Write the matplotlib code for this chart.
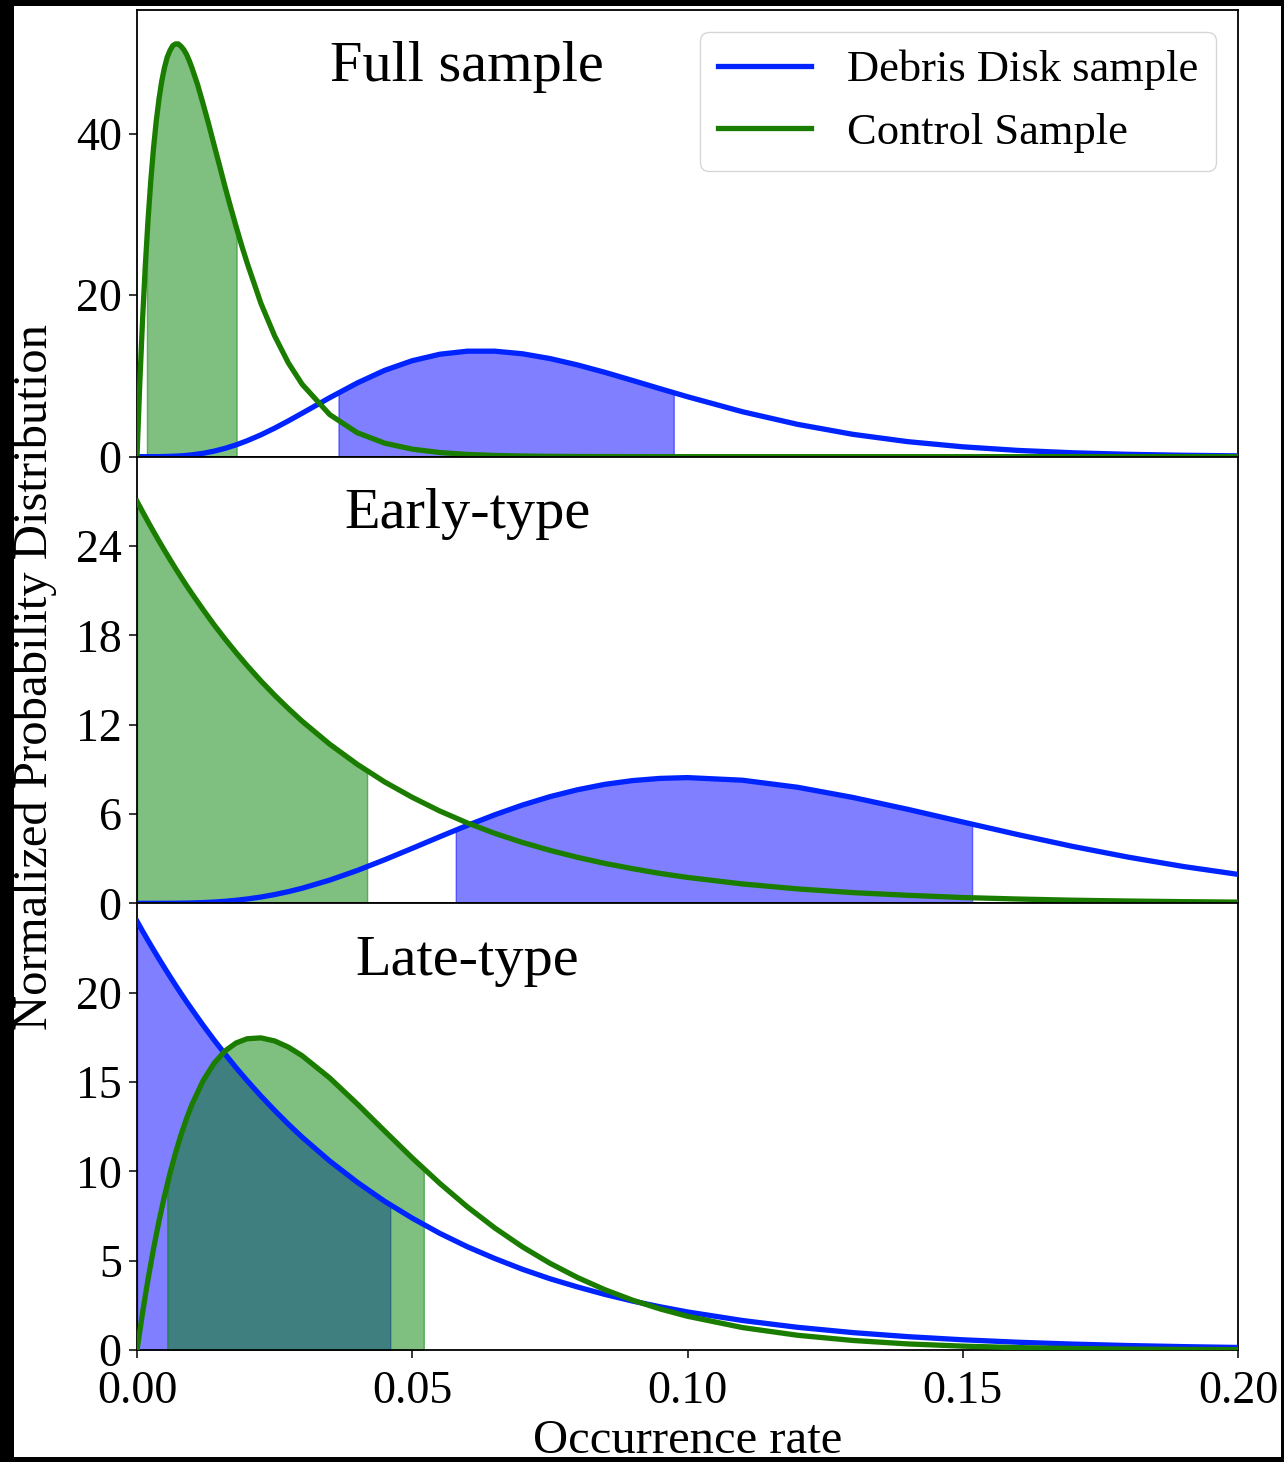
import numpy as np
import matplotlib
matplotlib.use("Agg")
import matplotlib.pyplot as plt
from matplotlib.patches import Rectangle

plt.rcParams['font.family'] = ['Liberation Serif', 'DejaVu Serif']

# occurrence rate grid (shared by most curves)
rate_grid = [0.000, 0.001, 0.002, 0.003, 0.004, 0.005, 0.006, 0.007, 0.008, 0.009,
             0.010, 0.012, 0.014, 0.016, 0.018, 0.020, 0.0225, 0.025, 0.0275, 0.030,
             0.035, 0.040, 0.045, 0.050, 0.055, 0.060, 0.065, 0.070, 0.075, 0.080,
             0.085, 0.090, 0.095, 0.100, 0.110, 0.120, 0.130, 0.140, 0.150, 0.160,
             0.170, 0.180, 0.190, 0.200]

# finer grid for the narrow control peak of the full sample
full_control_grid = [0.000, 0.0005, 0.001, 0.0015, 0.002, 0.0025, 0.003, 0.0035, 0.004, 0.0045,
                     0.005, 0.0055, 0.006, 0.0065, 0.007, 0.0075, 0.008, 0.0085, 0.009, 0.0095,
                     0.010, 0.011, 0.012, 0.013, 0.014, 0.015, 0.016, 0.017, 0.018, 0.019,
                     0.020, 0.0225, 0.025, 0.0275, 0.030, 0.035, 0.040, 0.045, 0.050, 0.055,
                     0.060, 0.065, 0.070, 0.075, 0.080, 0.090, 0.100, 0.150, 0.200]

# Full sample
full_debris = [0.0, 0.0, 0.0006, 0.003, 0.008, 0.019, 0.037, 0.065, 0.104, 0.157,
               0.226, 0.415, 0.681, 1.03, 1.46, 1.97, 2.70, 3.53, 4.43, 5.38,
               7.30, 9.12, 10.69, 11.88, 12.68, 13.06, 13.06, 12.74, 12.15, 11.36,
               10.44, 9.44, 8.42, 7.42, 5.56, 4.00, 2.77, 1.86, 1.22, 0.775,
               0.481, 0.292, 0.174, 0.101]
full_control = [0.0, 9.01, 16.81, 23.53, 29.25, 34.12, 38.2, 41.57, 44.3, 46.51,
                48.2, 49.48, 50.3, 50.89, 51.1, 51.1, 50.8, 50.39, 49.8, 49.01,
                48.1, 46.08, 43.7, 41.22, 38.6, 36.02, 33.4, 30.91, 28.5, 26.17,
                24.0, 19.0, 14.95, 11.6, 8.96, 5.21, 2.97, 1.67, 0.93, 0.51,
                0.28, 0.15, 0.08, 0.04, 0.02, 0.005, 0.0, 0.0, 0.0]
full_debris_band = (0.0366, 0.0975)
full_control_band = (0.0018, 0.0181)

# Early-type
early_debris = [0.0, 0.0, 0.0001, 0.0003, 0.0008, 0.002, 0.004, 0.007, 0.0115, 0.0178,
                0.026, 0.050, 0.087, 0.137, 0.205, 0.290, 0.423, 0.588, 0.786, 1.014,
                1.559, 2.205, 2.930, 3.695, 4.473, 5.233, 5.948, 6.599, 7.163, 7.627,
                7.993, 8.243, 8.391, 8.445, 8.268, 7.795, 7.114, 6.315, 5.462, 4.618,
                3.821, 3.106, 2.478, 1.945]
early_control = [27.0, 26.31, 25.63, 24.97, 24.33, 23.70, 23.09, 22.49, 21.91, 21.34,
                 20.79, 19.73, 18.71, 17.75, 16.84, 15.97, 14.94, 13.98, 13.08, 12.23,
                 10.69, 9.34, 8.15, 7.12, 6.20, 5.40, 4.70, 4.09, 3.56, 3.09,
                 2.68, 2.33, 2.01, 1.74, 1.30, 0.97, 0.72, 0.54, 0.39, 0.29,
                 0.21, 0.155, 0.113, 0.082]
early_debris_band = (0.0579, 0.1517)
early_control_band = (0.0, 0.0418)

# Late-type
late_debris = [24.0, 23.45, 22.92, 22.40, 21.89, 21.39, 20.90, 20.42, 19.95, 19.49,
               19.05, 18.18, 17.35, 16.56, 15.80, 15.08, 14.22, 13.41, 12.64, 11.91,
               10.58, 9.39, 8.32, 7.38, 6.53, 5.78, 5.12, 4.52, 3.99, 3.53,
               3.11, 2.74, 2.42, 2.13, 1.65, 1.27, 0.975, 0.747, 0.571, 0.435,
               0.330, 0.250, 0.189, 0.142]
late_control = [0.0, 2.067, 3.951, 5.666, 7.221, 8.627, 9.895, 11.032, 12.050, 12.954,
                13.754, 15.069, 16.049, 16.740, 17.185, 17.420, 17.470, 17.298, 16.951, 16.470,
                15.228, 13.776, 12.254, 10.750, 9.326, 8.013, 6.828, 5.777, 4.856, 4.059,
                3.374, 2.792, 2.300, 1.887, 1.255, 0.824, 0.534, 0.341, 0.216, 0.135,
                0.084, 0.051, 0.031, 0.019]
late_debris_band = (0.0, 0.046)
late_control_band = (0.0055, 0.0521)

panel_titles = ["Full sample", "Early-type", "Late-type"]
panel_ylims = [55.3, 30, 25]
panel_yticks = [[0, 20, 40], [0, 6, 12, 18, 24], [0, 5, 10, 15, 20]]
xticks = [0.00, 0.05, 0.10, 0.15, 0.20]

blue = '#0024ff'
green = '#1a7d00'


def band(x, y, lo, hi):
    # x positions inside the interval, plus the two edges
    xs = np.concatenate([[lo], x[(x > lo) & (x < hi)], [hi]])
    return xs, np.interp(xs, x, y)


x = np.array(rate_grid)
panels = [
    (x, full_debris, np.array(full_control_grid), full_control, full_debris_band, full_control_band),
    (x, early_debris, x, early_control, early_debris_band, early_control_band),
    (x, late_debris, x, late_control, late_debris_band, late_control_band),
]

fig = plt.figure(figsize=(12.84, 14.62), dpi=100)
fig.patch.set_facecolor('black')
fig.add_artist(Rectangle((14 / 1284, 1 - 1457 / 1462), (1281 - 14) / 1284, (1457 - 6) / 1462,
                         transform=fig.transFigure, facecolor='white',
                         edgecolor='none', zorder=-5))

left, right = 137 / 1284, 1238 / 1284
bottom, top = 1 - 1350 / 1462, 1 - 10 / 1462
h = (top - bottom) / 3

axes = []
for i, (xd, deb, xc, ctl, deb_band, ctl_band) in enumerate(panels):
    ax = fig.add_axes([left, top - (i + 1) * h, right - left, h])
    axes.append(ax)
    deb = np.array(deb)
    ctl = np.array(ctl)

    xs, ys = band(xd, deb, *deb_band)
    ax.fill_between(xs, 0, ys, color='blue', alpha=0.5, zorder=1)
    xs, ys = band(xc, ctl, *ctl_band)
    ax.fill_between(xs, 0, ys, color='green', alpha=0.5, zorder=1)

    ax.plot(xd, deb, color=blue, lw=3.8, label='Debris Disk sample', zorder=3,
            solid_joinstyle='round')
    ax.plot(xc, ctl, color=green, lw=3.8, label='Control Sample', zorder=3,
            solid_joinstyle='round')

    ax.set_xlim(0, 0.2)
    ax.set_ylim(0, panel_ylims[i])
    ax.set_yticks(panel_yticks[i])
    ax.set_xticks(xticks)
    ax.text(0.30, 0.872, panel_titles[i], transform=ax.transAxes,
            ha='center', va='center', fontsize=42)
    ax.tick_params(axis='both', labelsize=33, length=6, width=1.1, pad=5)
    for sp in ax.spines.values():
        sp.set_linewidth(1.3)
    if i < 2:
        ax.tick_params(axis='x', bottom=False, labelbottom=False)
    else:
        ax.set_xticklabels([f"{v:.2f}" for v in xticks])
        ax.tick_params(axis='x', pad=9)

leg = axes[0].legend(loc='upper right', fontsize=32, handlelength=2.1,
                     borderaxespad=0.5, framealpha=0.8)
for line in leg.get_lines():
    line.set_linewidth(3.8)

fig.text(35 / 1284, 1 - 677 / 1462, "Normalized Probability Distribution",
         rotation=90, ha='center', va='center', fontsize=35)
fig.text(688 / 1284, 1 - 1441 / 1462, "Occurrence rate",
         ha='center', va='center', fontsize=35)

fig.savefig("out.png", dpi=100, facecolor=fig.get_facecolor())
